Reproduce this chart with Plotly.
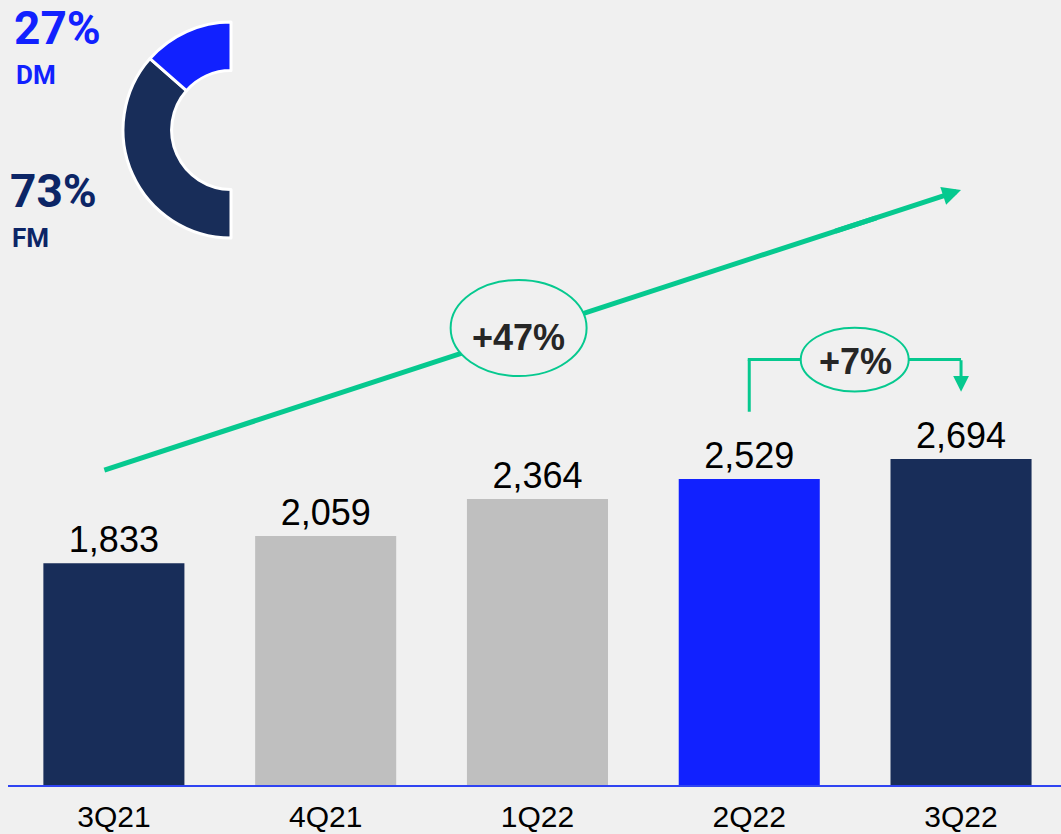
import plotly.graph_objects as go

# Quarterly volume
quarters = ["3Q21", "4Q21", "1Q22", "2Q22", "3Q22"]
volumes = [1833, 2059, 2364, 2529, 2694]
bar_colors = ["#182d59", "#bfbfbf", "#bfbfbf", "#1121ff", "#182d59"]

# Mix of the latest quarter
mix_labels = ["DM", "FM"]
mix_shares = [27, 73]
mix_colors = ["#1121ff", "#182d59"]
mix_text_colors = ["#1121ff", "#0c2566"]

# Growth call-outs
growth_year = "+47%"
growth_quarter = "+7%"

BG = "#f0f0f0"
GREEN = "#06c98f"
SANS = "Liberation Sans, Arial, sans-serif"
HEAD = "Roboto, Open Sans, sans-serif"

W, H = 1061, 834
M_L, M_R, M_T, M_B = 8, 0, 0, 49
PLOT_W = W - M_L - M_R
PLOT_H = H - M_T - M_B
Y_TOP = 6488


def paper_x(px):
    return (px - M_L) / PLOT_W


def paper_y(py):
    return 1 - (py - M_T) / PLOT_H


fig = go.Figure()

fig.add_trace(go.Bar(
    x=quarters,
    y=volumes,
    marker=dict(color=bar_colors, line=dict(width=0)),
    text=[f"{v:,}" for v in volumes],
    textposition="outside",
    textfont=dict(family=SANS, size=36, color="#000000"),
    cliponaxis=False,
    hoverinfo="skip",
    showlegend=False,
))

# Half donut drawn clockwise from 12 o'clock: an invisible filler takes the
# right half, then FM and DM fill the left half back up to the top.
fig.add_trace(go.Pie(
    labels=[""] + mix_labels[::-1],
    values=[sum(mix_shares)] + mix_shares[::-1],
    sort=False,
    direction="clockwise",
    rotation=0,
    hole=0.55,
    marker=dict(
        colors=["rgba(0,0,0,0)"] + mix_colors[::-1],
        line=dict(color=["rgba(0,0,0,0)", "#ffffff", "#ffffff"], width=[0, 3, 3]),
    ),
    textinfo="none",
    hoverinfo="skip",
    showlegend=False,
    domain=dict(x=[paper_x(123), paper_x(339)], y=[paper_y(238), paper_y(22)]),
))

# Overall trend arrow, in category / value units
trend_x0, trend_y0 = -0.045, 2603
trend_x1, trend_y1 = 4.0, 4917


def trend_y(x):
    return trend_y0 + (trend_y1 - trend_y0) * (x - trend_x0) / (trend_x1 - trend_x0)


shapes = [
    dict(type="line", xref="x", yref="y", x0=trend_x0, y0=trend_y0, x1=3.6, y1=trend_y(3.6),
         line=dict(color=GREEN, width=5), layer="above"),
    dict(type="circle", xref="x", yref="y", x0=1.59, x1=2.232, y0=3380, y1=4174,
         fillcolor=BG, line=dict(color=GREEN, width=2), layer="above"),
    # quarter-on-quarter bracket
    dict(type="line", xref="x", yref="y", x0=3, y0=3085, x1=3, y1=3516,
         line=dict(color=GREEN, width=3), layer="above"),
    dict(type="line", xref="x", yref="y", x0=2.993, y0=3516, x1=4.0, y1=3516,
         line=dict(color=GREEN, width=3), layer="above"),
    dict(type="circle", xref="x", yref="y", x0=3.243, x1=3.753, y0=3252, y1=3780,
         fillcolor=BG, line=dict(color=GREEN, width=2), layer="above"),
]

annotations = [
    dict(xref="x", yref="y", axref="x", ayref="y", x=trend_x1, y=trend_y1,
         ax=3.4, ay=trend_y(3.4),
         text="", showarrow=True, arrowhead=2, arrowsize=0.75, arrowwidth=5,
         arrowcolor=GREEN, standoff=0),
    dict(xref="x", yref="y", axref="x", ayref="y", x=4.0, y=3250, ax=4.0, ay=3522,
         text="", showarrow=True, arrowhead=2, arrowsize=1.05, arrowwidth=3,
         arrowcolor=GREEN, standoff=0),
    dict(xref="x", yref="y", x=1.911, y=3698, text=f"<b>{growth_year}</b>",
         showarrow=False, font=dict(family=SANS, size=36, color="#262626")),
    dict(xref="x", yref="y", x=3.502, y=3504, text=f"<b>{growth_quarter}</b>",
         showarrow=False, font=dict(family=SANS, size=36, color="#262626")),
]

# Share labels beside the donut: (left px, share top px, name centre px)
share_pos = [(13, 0, 75), (9, 163, 238)]
for (lbl, share, col), (lx, vtop, ly) in zip(zip(mix_labels, mix_shares, mix_text_colors), share_pos):
    annotations.append(dict(xref="paper", yref="paper", x=paper_x(lx), y=paper_y(vtop),
                            xanchor="left", yanchor="top", text=f"<b>{share}%</b>",
                            borderpad=0, showarrow=False,
                            font=dict(family=HEAD, size=46, color=col)))
    annotations.append(dict(xref="paper", yref="paper", x=paper_x(lx + 1), y=paper_y(ly),
                            xanchor="left", yanchor="middle", text=f"<b>{lbl}</b>",
                            showarrow=False, font=dict(family=HEAD, size=26, color=col)))

fig.update_layout(
    width=W,
    height=H,
    margin=dict(l=M_L, r=M_R, t=M_T, b=M_B),
    paper_bgcolor=BG,
    plot_bgcolor=BG,
    bargap=0.334,
    shapes=shapes,
    annotations=annotations,
    xaxis=dict(
        type="category",
        range=[-0.5, 4.472],
        showgrid=False,
        zeroline=False,
        showline=True,
        linecolor="#2f43f2",
        linewidth=2,
        ticks="",
        ticklabelstandoff=4,
        tickfont=dict(family=SANS, size=30, color="#000000"),
        fixedrange=True,
    ),
    yaxis=dict(
        range=[0, Y_TOP],
        visible=False,
        showgrid=False,
        zeroline=False,
        fixedrange=True,
    ),
)

fig.write_html("out.html", config=dict(displayModeBar=False))
